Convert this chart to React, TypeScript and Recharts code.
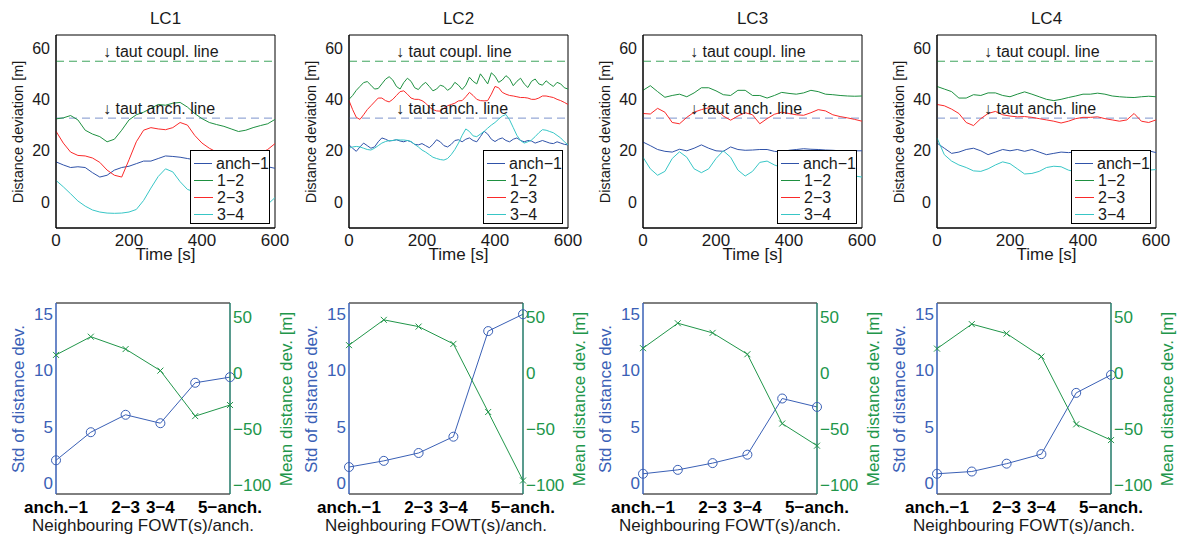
import React from 'react';
import { LineChart, Line, XAxis, YAxis, ReferenceLine, ReferenceArea, Label } from 'recharts';

// time bases (s)
const TIME_20 = [0, 20, 40, 60, 80, 100, 120, 140, 160, 180, 200, 220, 240, 260, 280, 300, 320, 340, 360, 380, 400, 420, 440, 460, 480, 500, 520, 540, 560, 580, 600];
const TIME_10 = [0, 10, 20, 30, 40, 50, 60, 70, 80, 90, 100, 110, 120, 130, 140, 150, 160, 170, 180, 190, 200, 210, 220, 230, 240, 250, 260, 270, 280, 290, 300, 310, 320, 330, 340, 350, 360, 370, 380, 390, 400, 410, 420, 430, 440, 450, 460, 470, 480, 490, 500, 510, 520, 530, 540, 550, 560, 570, 580, 590, 600];

// LC1 distance deviation [m]
const LC1_ANCH1 = [15.7, 14.5, 13.5, 13.8, 13.5, 11.5, 9.8, 10.5, 12.5, 13.5, 14, 15, 16, 16, 17, 18, 17.8, 17.5, 17, 16.5, 16.5, 16, 15.8, 15.5, 15.5, 15, 14.8, 14.5, 14.2, 13.8, 13.2];
const LC1_12 = [32.4, 32.8, 33.7, 32, 28, 26.5, 25.5, 23.5, 24.5, 28, 32, 34, 35, 36.5, 38, 37.7, 38.5, 38.8, 37, 34.5, 32.5, 31, 30.2, 29.5, 28.5, 27.5, 28, 29, 29.8, 30.5, 32.2];
const LC1_23 = [27.6, 23, 19.5, 18.2, 18, 17.2, 15.5, 12.5, 10.5, 9.8, 16.5, 23.5, 28, 29, 28.5, 28.2, 29, 31, 30, 26, 23, 21, 19.5, 18.5, 18, 17.5, 17.5, 18, 19, 20.5, 22.8];
const LC1_34 = [8.5, 6, 3.3, 0.5, -1.5, -3, -3.8, -4.2, -4.3, -4.2, -3.8, -2.8, 0.7, 5.5, 10, 13, 11.8, 8, 5, 4, 3.5, 3, 2.5, 2, 1.5, 1, 0.5, 0, -0.5, -0.8, 1.8];

// LC2
const LC2_ANCH1 = [22.3, 21, 19.8, 21.5, 23, 22, 21, 21.5, 23.5, 25, 24.5, 23.8, 24, 24.3, 23.8, 23.5, 24, 23.5, 22.5, 22.3, 22.8, 22, 21.2, 22.5, 24.3, 23.5, 22, 21.5, 22.5, 24, 24.3, 23.5, 24.5, 25, 24, 23.5, 25.5, 27.6, 26.5, 24.5, 23.6, 24.5, 25, 24, 23.5, 24.5, 25, 24, 23.5, 24, 23.8, 23, 23.5, 24, 23.5, 23, 22.8, 23.5, 23, 22.5, 22.3];
const LC2_12 = [40, 41.5, 43.5, 45, 46.5, 46.9, 45.5, 44, 44.2, 46, 47.8, 48.8, 47.5, 45, 44, 46.5, 48.2, 47, 44.5, 43.8, 45.5, 46.6, 45, 43.3, 44, 45.5, 45, 43.5, 44.5, 46.6, 45.5, 43.8, 45.5, 48.6, 47, 46, 49.9, 48, 46, 50.3, 49, 46.6, 47.5, 49.2, 48, 45.3, 47, 48.2, 46, 44.6, 47, 47.9, 46, 45.5, 47.2, 46, 45, 46.6, 46, 44.5, 44];
const LC2_23 = [39.5, 36, 33, 32.2, 34, 36, 37.5, 39, 40.5, 40.5, 39.5, 39, 40, 41.5, 43, 43.3, 42, 40.5, 40, 40, 39.5, 38.5, 37, 36, 35.5, 35.4, 36.5, 37.5, 38, 38.5, 39.4, 39.5, 41, 42.7, 41.5, 40, 39.5, 39.4, 39.5, 42, 45, 44.5, 42.7, 42, 41.5, 41.3, 41, 40.7, 40.7, 40.5, 40, 40, 40.5, 41.3, 41.3, 41, 40.7, 40, 39.5, 38.8, 38];
const LC2_34 = [21, 21.5, 21.7, 21.5, 21, 20.5, 20.3, 21, 22, 23, 23.6, 24, 24, 24.3, 24.2, 24.2, 24, 23.6, 22.5, 21.5, 20.3, 19.5, 18.5, 17.5, 17, 16.6, 16.4, 17, 18.5, 20.5, 23, 26, 28.5, 27.5, 25.8, 25.5, 26.5, 27.5, 28.8, 30, 31, 32.3, 33.5, 34.1, 32, 29, 26, 24, 23, 23.5, 24.2, 25.5, 27, 28.2, 28, 27.5, 27, 26, 25, 23.5, 22.3];

// LC3
const LC3_ANCH1 = [23.4, 22, 20.5, 19.8, 19.5, 20.6, 20, 21, 22.3, 21, 20, 19.8, 21.5, 20.5, 20.2, 20.3, 20.5, 20.5, 19.8, 19.5, 20.2, 20.5, 20.8, 20.6, 20.5, 20.3, 20.2, 20, 20, 20, 20];
const LC3_12 = [43.5, 45.3, 43, 40.8, 41.5, 42, 41, 42.5, 44.5, 44.5, 43.3, 41.8, 41.5, 43.5, 43.5, 41.5, 41.5, 40.5, 41.5, 42.7, 42.3, 42, 42.5, 43.5, 43, 42, 41.8, 41.5, 41.3, 41.2, 41.3];
const LC3_23 = [34.5, 34.3, 36.5, 35, 31, 30.5, 33, 35, 36, 36.7, 36.3, 33.5, 31.9, 33.5, 34.8, 34, 30.5, 32.5, 34.2, 35, 34.5, 34, 33.8, 34.8, 36, 35.5, 34, 33.3, 32.8, 32.2, 31.5];
const LC3_34 = [17.5, 13, 10.5, 12, 17, 19.6, 17.5, 13, 11.5, 13, 17, 20, 17.5, 12.5, 10.2, 12, 15.5, 16, 14.5, 13.5, 13, 13.5, 14, 13.5, 12.5, 12, 11.5, 11, 10.5, 10.2, 9.8];

// LC4
const LC4_ANCH1 = [23, 21, 19, 19.5, 20.5, 21, 20, 18.5, 19.5, 20.5, 20, 20.5, 19.8, 20.5, 19.5, 18.5, 19, 19.5, 19.3, 19.5, 19.2, 19.5, 19.8, 20, 19.5, 19.2, 19.5, 20, 20, 20, 19.3];
const LC4_12 = [45, 44, 43, 40.5, 40.5, 41.8, 41.5, 42.5, 42.5, 41.5, 41, 42, 42.9, 42, 41, 40, 39.5, 40, 40.7, 41.3, 42, 42, 42.4, 42, 41.3, 41, 40.8, 40.7, 41, 41.2, 41];
const LC4_23 = [38, 37.5, 36.2, 34.5, 31, 29.8, 32.5, 34.5, 35.3, 34, 33.5, 33.2, 33.3, 33, 32.5, 32, 31.5, 30.8, 31.5, 32.5, 33, 33, 33.2, 32.5, 32, 31.5, 32, 34.5, 31.5, 31, 32];
const LC4_34 = [25, 18.5, 16, 14.5, 13.5, 12.2, 12, 13, 14.5, 15.7, 15, 13, 11, 11.2, 12, 13.5, 14, 13.8, 12.5, 11.8, 11.5, 11.5, 11.8, 12, 12.3, 12.5, 12.5, 12.3, 12.3, 12.5, 12.7];

// taut line thresholds [m]
const TAUT_COUPL = 54.8;
const TAUT_ANCH = 32.7;

// bottom row: per neighbour pair
const PAIRS = ['anch.−1', '1−2', '2−3', '3−4', '4−5', '5−anch.'];
const PAIR_TICKS = ['anch.−1', '', '2−3', '3−4', '', '5−anch.'];
const STD_LC1 = [2.0, 4.5, 6.05, 5.3, 8.9, 9.4];
const STD_LC2 = [1.4, 1.95, 2.65, 4.1, 13.5, 15.0];
const STD_LC3 = [0.8, 1.15, 1.75, 2.5, 7.5, 6.75];
const STD_LC4 = [0.8, 1.0, 1.7, 2.55, 8.0, 9.6];
const MEAN_LC1 = [15.8, 32, 21, 1.8, -38.7, -28.8];
const MEAN_LC2 = [24.5, 47, 41, 25.6, -35, -96];
const MEAN_LC3 = [21.8, 44, 35.4, 16.4, -45.3, -65];
const MEAN_LC4 = [21.4, 43.2, 34.8, 14.3, -46, -60];

const SERIES_NAMES = ['anch−1', '1−2', '2−3', '3−4'];
const SERIES_COLORS = ['#2f52a8', '#1e9040', '#fa2a2a', '#38c6c6'];

const CASES = [
  { title: 'LC1', left: 56, time: TIME_20, series: [LC1_ANCH1, LC1_12, LC1_23, LC1_34], std: STD_LC1, mean: MEAN_LC1 },
  { title: 'LC2', left: 349, time: TIME_10, series: [LC2_ANCH1, LC2_12, LC2_23, LC2_34], std: STD_LC2, mean: MEAN_LC2 },
  { title: 'LC3', left: 643, time: TIME_20, series: [LC3_ANCH1, LC3_12, LC3_23, LC3_34], std: STD_LC3, mean: MEAN_LC3 },
  { title: 'LC4', left: 937, time: TIME_20, series: [LC4_ANCH1, LC4_12, LC4_23, LC4_34], std: STD_LC4, mean: MEAN_LC4 },
];

const INK = '#1a1a1a';
const STD_BLUE = '#3a60b6';
const MEAN_GREEN = '#21964a';
const RIGHT_SPINE = '#227a68';

const vLabel = (cx: number, cy: number, text: string, size: number, color: string) => (
  <div style={{ position: 'absolute', left: cx, top: cy, transform: 'translate(-50%,-50%) rotate(-90deg)', whiteSpace: 'nowrap', fontSize: size, color, lineHeight: 1 }}>
    {text}
  </div>
);

function TopPanel({ c }: { c: any }) {
  const rows = c.time.map((t: number, i: number) => ({ t, s0: c.series[0][i], s1: c.series[1][i], s2: c.series[2][i], s3: c.series[3][i] }));
  return (
    <div style={{ position: 'absolute', left: c.left - 56, top: 0, width: 294, height: 280 }}>
      <div style={{ position: 'absolute', left: 56, width: 219, top: 9, textAlign: 'center', fontSize: 17, color: INK }}>{c.title}</div>
      <LineChart width={294} height={280} data={rows} margin={{ top: 35, right: 19, bottom: 0, left: 0 }}>
        <XAxis dataKey="t" type="number" domain={[0, 600]} ticks={[0, 200, 400, 600]} height={52} tickLine={false} tickSize={4} tickMargin={2} axisLine={{ stroke: '#000' }} tick={{ fontSize: 17, fill: INK }} interval={0} />
        <YAxis type="number" domain={[-10, 65]} ticks={[0, 20, 40, 60]} width={56} tickLine={false} tickSize={4} tickMargin={2} axisLine={{ stroke: '#000' }} tick={{ fontSize: 16, fill: INK }} interval={0} allowDataOverflow />
        <ReferenceArea x1={0} x2={600} y1={-10} y2={65} fill="none" stroke="#000" ifOverflow="visible" />
        <ReferenceLine y={TAUT_COUPL} stroke="#3fa45e" strokeDasharray="8 5" label={<Label position="insideBottomLeft" offset={4} dx={43} value="↓ taut coupl. line" fontSize={16} fill={INK} />} />
        <ReferenceLine y={TAUT_ANCH} stroke="#7d93cc" strokeDasharray="8 5" label={<Label position="insideBottomLeft" offset={4} dx={43} value="↓ taut anch. line" fontSize={16} fill={INK} />} />
        {SERIES_NAMES.map((n, k) => (
          <Line key={n} dataKey={'s' + k} name={n} stroke={SERIES_COLORS[k]} strokeWidth={1} dot={false} isAnimationActive={false} />
        ))}
      </LineChart>
      <div style={{ position: 'absolute', left: 190, top: 150, width: 80, height: 74, boxSizing: 'border-box', border: '1px solid #000', background: '#fff', paddingTop: 4 }}>
        {SERIES_NAMES.map((n, k) => (
          <div key={n} style={{ display: 'flex', alignItems: 'center', height: 17 }}>
            <span style={{ display: 'inline-block', width: 19, height: 0, borderTop: `1px solid ${SERIES_COLORS[k]}`, marginLeft: 3, marginRight: 4 }} />
            <span style={{ fontSize: 16, lineHeight: '17px', color: INK }}>{n}</span>
          </div>
        ))}
      </div>
      {vLabel(18, 131.5, 'Distance deviation [m]', 14.5, INK)}
      <div style={{ position: 'absolute', left: 56, width: 219, top: 245, textAlign: 'center', fontSize: 17, color: INK, lineHeight: '20px' }}>Time [s]</div>
    </div>
  );
}

const CrossDot = (props: any) => {
  const { cx, cy, index } = props;
  if (cx == null || cy == null) return null;
  return <path key={'x' + index} d={`M${cx - 3},${cy - 3}L${cx + 3},${cy + 3}M${cx - 3},${cy + 3}L${cx + 3},${cy - 3}`} stroke={MEAN_GREEN} strokeWidth={1} fill="none" />;
};

function BottomPanel({ c }: { c: any }) {
  const rows = PAIRS.map((p, i) => ({ i, pair: p, std: c.std[i], mean: c.mean[i] }));
  return (
    <div style={{ position: 'absolute', left: c.left - 56, top: 280, width: 294, height: 260 }}>
      <LineChart width={294} height={260} data={rows} margin={{ top: 23, right: 0, bottom: 0, left: 0 }}>
        <XAxis dataKey="i" type="number" domain={[0, 5]} ticks={[0, 1, 2, 3, 4, 5]} tickFormatter={(v: number) => PAIR_TICKS[v]} height={46} tickLine={false} tickSize={5} tickMargin={2} interval={0} axisLine={{ stroke: '#000' }} tick={{ fontSize: 17, fill: '#000', fontWeight: 'bold' }} />
        <YAxis yAxisId="std" type="number" domain={[-1, 16]} ticks={[0, 5, 10, 15]} width={56} tickLine={false} tickSize={1} tickMargin={2} interval={0} axisLine={{ stroke: STD_BLUE, strokeWidth: 1.5 }} tick={{ fontSize: 17, fill: STD_BLUE }} />
        <YAxis yAxisId="mean" orientation="right" type="number" domain={[-108, 62]} ticks={[-100, -50, 0, 50]} tickFormatter={(v: number) => (v < 0 ? '−' + Math.abs(v) : String(v))} width={64} tickLine={false} tickSize={1} tickMargin={2} interval={0} axisLine={{ stroke: RIGHT_SPINE, strokeWidth: 1.5 }} tick={{ fontSize: 17, fill: MEAN_GREEN }} />
        <ReferenceLine yAxisId="std" y={16} stroke="#000" ifOverflow="visible" />
        <Line yAxisId="std" dataKey="std" stroke={STD_BLUE} strokeWidth={1} dot={{ r: 4.5, stroke: STD_BLUE, fill: 'none', strokeWidth: 1 }} isAnimationActive={false} />
        <Line yAxisId="mean" dataKey="mean" stroke={MEAN_GREEN} strokeWidth={1} dot={CrossDot} isAnimationActive={false} />
      </LineChart>
      {vLabel(18, 118.5, 'Std of distance dev.', 17, STD_BLUE)}
      {vLabel(286, 118.5, 'Mean distance dev. [m]', 17, MEAN_GREEN)}
      <div style={{ position: 'absolute', left: 56, width: 174, top: 236, textAlign: 'center', fontSize: 17, color: INK, lineHeight: '20px', whiteSpace: 'nowrap', display: 'flex', justifyContent: 'center' }}>
        <span>Neighbouring FOWT(s)/anch.</span>
      </div>
    </div>
  );
}

export default function App() {
  return (
    <div style={{ position: 'absolute', left: 0, top: 0, width: 1183, height: 540, background: '#fff', fontFamily: '"Liberation Sans", "DejaVu Sans", Arial, Helvetica, sans-serif', overflow: 'hidden' }}>
      {CASES.map((c) => (
        <React.Fragment key={c.title}>
          <TopPanel c={c} />
          <BottomPanel c={c} />
        </React.Fragment>
      ))}
    </div>
  );
}
